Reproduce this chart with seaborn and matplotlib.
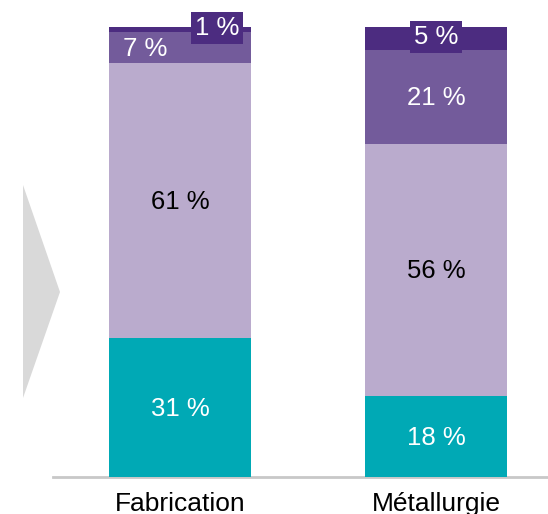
import matplotlib
matplotlib.use("Agg")
import matplotlib.pyplot as plt
from matplotlib.patches import Polygon
import seaborn as sns
import pandas as pd
import numpy as np

categories = ["Fabrication", "Métallurgie"]
teal_vals = [31, 18]
lavender_vals = [61, 56]
medium_vals = [7, 21]
dark_vals = [1, 5]

layers = [teal_vals, lavender_vals, medium_vals, dark_vals]
colors = ["#00A9B5", "#BAABCD", "#735B9B", "#4C2C80"]
text_colors = ["white", "black", "white", "white"]

sns.set_theme(style="white")
plt.rcParams["font.family"] = ["Liberation Sans", "DejaVu Sans"]

W, H = 548, 514
fig = plt.figure(figsize=(W / 100, H / 100), dpi=100)
ax = fig.add_axes([53 / W, (H - 477) / H, (W - 53) / W, 450 / H])

cum = np.cumsum(np.array(layers), axis=0)
bar_w = 0.555
# draw from top layer down (overlapping cumulative bars)
for i in range(len(layers) - 1, -1, -1):
    df = pd.DataFrame({"cat": categories, "val": cum[i]})
    sns.barplot(data=df, x="cat", y="val", color=colors[i], width=bar_w,
                saturation=1, ax=ax, linewidth=0, zorder=2)

# labels
for j, cat in enumerate(categories):
    bottoms = np.concatenate([[0], cum[:-1, j]])
    for i, layer in enumerate(layers):
        v = layer[j]
        mid = bottoms[i] + v / 2
        x = j
        kw = dict(ha="center", va="center", fontsize=18.5, color=text_colors[i],
                  zorder=5, clip_on=False)
        if v <= 5:
            if v <= 1:
                x = j + 0.145
            ax.text(x, mid + 0.3, f"{v} %",
                    bbox=dict(boxstyle="square,pad=0.15", fc=colors[3], ec="none"),
                    **kw)
        else:
            if j == 0 and i == 2:
                x = j - 0.137
            ax.text(x, mid - 0.3, f"{v} %", **kw)

ax.set_xlim(-0.496, 1.437)
ax.set_ylim(0, 100)
ax.set_xlabel("")
ax.set_ylabel("")
ax.set_yticks([])
ax.tick_params(axis="x", length=0, pad=10.5, labelsize=19, labelcolor="black")
for s in ["top", "right", "left"]:
    ax.spines[s].set_visible(False)
ax.spines["bottom"].set_color("#C8C8C8")
ax.spines["bottom"].set_linewidth(2)
ax.spines["bottom"].set_zorder(1)

# decorative chevron on the left
pts = [(23, 185), (60, 292), (23, 398)]
poly = Polygon([(x / W, 1 - y / H) for x, y in pts], closed=True,
               transform=fig.transFigure, facecolor="#D9D9D9", edgecolor="none")
fig.patches.append(poly)

fig.savefig("out.png", dpi=100)
